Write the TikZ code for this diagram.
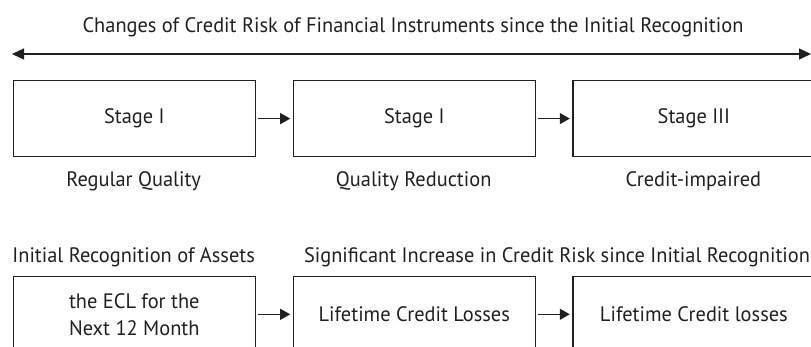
\documentclass[tikz,border=0pt]{standalone}
\usepackage{fontspec}
\setmainfont{PT Sans}[FakeStretch=0.975]
\usetikzlibrary{arrows.meta}
\definecolor{ink}{HTML}{231F20}
\begin{document}
\begin{tikzpicture}[x=1bp,y=-1bp,
  box/.style={draw=ink,line width=1.2bp,minimum width=242bp,minimum height=76bp,inner sep=0pt,anchor=north west,align=center,text=ink},
  lbl/.style={inner sep=0pt,text=ink},
  flow/.style={draw=ink,line width=1.2bp,-{Triangle[length=10bp,width=11bp]},shorten <=2.5bp,shorten >=2.5bp},
  every node/.append style={font=\fontsize{21}{25}\selectfont}]
\useasboundingbox (0,0) rectangle (811,346);
\clip (0,0) rectangle (811,346);
\node[lbl,anchor=base] (title) at (413,32) {Changes of Credit Risk of Financial Instruments since the Initial Recognition};
\coordinate (L) at (12,54);
\coordinate (R) at (811,54);
\draw[draw=ink,line width=1.2bp,{Triangle[length=12bp,width=11bp]}-{Triangle[length=12bp,width=11bp]}] (L) -- (R);
\node[box] (s1) at (12.7,80) {Stage I};
\node[box] (s2) at (292.7,80) {Stage I};
\node[box] (s3) at (572.3,80) {Stage III};
\draw[flow] (s1) -- (s2);
\draw[flow] (s2) -- (s3);
\node[lbl] (q1) at (133.7,181) {Regular Quality};
\node[lbl] (q2) at (413.7,181) {Quality Reduction};
\node[lbl] (q3) at (693.3,181) {Credit-impaired};
\node[lbl] (h1) at (133.7,257) {Initial Recognition of Assets};
\node[lbl] (h2) at (557,257) {Significant Increase in Credit Risk since Initial Recognition};
\node[box] (e1) at (12.7,275.7) {the ECL for the\\[2pt]Next 12 Month};
\node[box] (e2) at (292.7,275.7) {Lifetime Credit Losses};
\node[box] (e3) at (572.3,275.7) {Lifetime Credit losses};
\draw[flow] (e1) -- (e2);
\draw[flow] (e2) -- (e3);
\end{tikzpicture}
\end{document}
